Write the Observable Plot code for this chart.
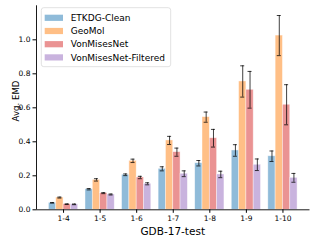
<!DOCTYPE html>
<html>
<head>
<meta charset="utf-8">
<script src="https://cdn.jsdelivr.net/npm/d3@7"></script>
<script src="https://cdn.jsdelivr.net/npm/@observablehq/plot@0.6"></script>
<style>
  html, body { margin: 0; padding: 0; background: #fff; }
  #chart svg { display: block; }
</style>
</head>
<body>
<div id="chart"></div>
<script>
const groups = ["1-4", "1-5", "1-6", "1-7", "1-8", "1-9", "1-10"];
const series = ["ETKDG-Clean", "GeoMol", "VonMisesNet", "VonMisesNet-Filtered"];
const colors = ["#1f77b4", "#ff7f0e", "#d62728", "#9467bd"];

const etkdg    = [0.041, 0.121, 0.206, 0.241, 0.274, 0.349, 0.315];
const etkdgErr = [0.002, 0.004, 0.005, 0.012, 0.016, 0.034, 0.031];
const geomol    = [0.072, 0.176, 0.288, 0.408, 0.545, 0.755, 1.025];
const geomolErr = [0.003, 0.007, 0.010, 0.024, 0.030, 0.092, 0.118];
const vmn    = [0.033, 0.098, 0.190, 0.339, 0.421, 0.706, 0.618];
const vmnErr = [0.002, 0.003, 0.007, 0.024, 0.052, 0.108, 0.118];
const vmnf    = [0.032, 0.090, 0.153, 0.212, 0.208, 0.265, 0.188];
const vmnfErr = [0.002, 0.003, 0.006, 0.017, 0.019, 0.034, 0.026];

const yTicks = [0, 0.2, 0.4, 0.6, 0.8, 1.0];

const values = [etkdg, geomol, vmn, vmnf];
const errors = [etkdgErr, geomolErr, vmnErr, vmnfErr];
const barW = 0.2;

const data = [];
series.forEach((s, k) => {
  groups.forEach((g, i) => {
    const c = i + (k - 1.5) * barW;
    data.push({series: s, group: g, gi: i, k, c,
      x1: c - barW / 2, x2: c + barW / 2,
      value: values[k][i], lo: values[k][i] - errors[k][i], hi: values[k][i] + errors[k][i]});
  });
});

const xMin = -2 * barW, xMax = groups.length - 1 + 2 * barW;
const xPad = 0.05 * (xMax - xMin);
const xDomain = [xMin - xPad, xMax + xPad];
const yDomain = [0, d3.max(data, d => d.hi) * 1.05];
const cap = 0.055;

const plot = Plot.plot({
  width: 315,
  height: 241,
  marginLeft: 36,
  marginRight: 5.5,
  marginTop: 5.3,
  marginBottom: 31.7,
  style: {fontFamily: "DejaVu Sans", fontSize: "7.5px", color: "#000", background: "#fff"},
  x: {domain: xDomain},
  y: {domain: yDomain},
  color: {domain: series, range: colors},
  marks: [
    Plot.rectY(data, {x1: "x1", x2: "x2", y1: 0, y2: "value", fill: "series", fillOpacity: 0.5,
      stroke: "#fff", strokeOpacity: 0.6, strokeWidth: 0.7}),
    Plot.ruleX(data, {x: "c", y1: "lo", y2: "hi", stroke: "#000", strokeOpacity: 0.75, strokeWidth: 1}),
    Plot.ruleY(data, {y: "hi", x1: d => d.c - cap, x2: d => d.c + cap, stroke: "#000", strokeOpacity: 0.75, strokeWidth: 1}),
    Plot.ruleY(data, {y: "lo", x1: d => d.c - cap, x2: d => d.c + cap, stroke: "#000", strokeOpacity: 0.75, strokeWidth: 1}),
    Plot.ruleY([0], {stroke: "#000", strokeWidth: 0.9}),
    Plot.ruleX([xDomain[0]], {stroke: "#000", strokeWidth: 0.9}),
    Plot.axisX({ticks: d3.range(groups.length), tickFormat: i => groups[i], tickSize: 3.5, tickPadding: 2.5, label: null, fontSize: 7.5}),
    Plot.axisY({ticks: yTicks, tickFormat: d3.format(".1f"), tickSize: 3.5, tickPadding: 2.5, label: null, fontSize: 7.5})
  ]
});

const svg = d3.select(plot);
svg.append("text")
  .attr("x", 172.75).attr("y", 234.5)
  .attr("text-anchor", "middle")
  .attr("font-family", "DejaVu Sans").attr("font-size", 10.5).attr("fill", "#000")
  .text("GDB-17-test");
svg.append("g")
  .attr("transform", "translate(18.5,101)")
  .append("text")
  .attr("transform", "rotate(-90)")
  .attr("x", 0).attr("y", 0)
  .attr("text-anchor", "middle")
  .attr("font-family", "DejaVu Sans").attr("font-size", 8.6).attr("fill", "#000")
  .text("Avg. EMD");

const lg = svg.append("g");
lg.append("rect")
  .attr("x", 41.3).attr("y", 7.7).attr("width", 129.4).attr("height", 59)
  .attr("rx", 2.5).attr("fill", "#fff").attr("fill-opacity", 0.8)
  .attr("stroke", "#d9d9d9").attr("stroke-width", 0.8);
series.forEach((s, k) => {
  const cy = 17.7 + k * 13.2;
  lg.append("rect")
    .attr("x", 44.7).attr("y", cy - 3).attr("width", 18.3).attr("height", 6.2)
    .attr("fill", colors[k]).attr("fill-opacity", 0.5);
  lg.append("text")
    .attr("x", 70.7).attr("y", cy + 3.3)
    .attr("text-anchor", "start")
    .attr("font-family", "DejaVu Sans").attr("font-size", 9).attr("fill", "#000")
    .text(s);
});

document.getElementById("chart").appendChild(plot);
</script>
</body>
</html>
